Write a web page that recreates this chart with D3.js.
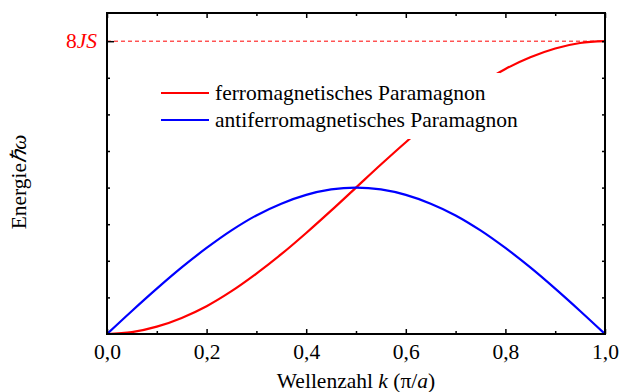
<!DOCTYPE html>
<html lang="de">
<head>
<meta charset="UTF-8">
<title>Paramagnon</title>
<style>
    body { margin: 0; background: #fff; }
    svg, svg text { font-family: "Times New Roman", "Liberation Serif", Times, serif; }
</style>
</head>
<body>
<svg></svg>
<script src="https://d3js.org/d3.v7.min.js"></script>
<script>
    // Wellenzahl k in Einheiten pi/a
    var kValues = [0, 0.05, 0.1, 0.15, 0.2, 0.25, 0.3, 0.35, 0.4, 0.45, 0.5,
                   0.55, 0.6, 0.65, 0.7, 0.75, 0.8, 0.85, 0.9, 0.95, 1.0];
    // Energie in Einheiten JS
    var ferroValues = [0, 0.05, 0.2, 0.44, 0.76, 1.17, 1.65, 2.18, 2.76, 3.37, 4.0,
                       4.63, 5.24, 5.82, 6.35, 6.83, 7.24, 7.56, 7.8, 7.95, 8.0];
    var antiferroValues = [0, 0.63, 1.24, 1.82, 2.35, 2.83, 3.24, 3.56, 3.8, 3.95, 4.0,
                           3.95, 3.8, 3.56, 3.24, 2.83, 2.35, 1.82, 1.24, 0.63, 0];
    var xTickValues = [0, 0.2, 0.4, 0.6, 0.8, 1.0];
    var xMinorTicks = [0.1, 0.3, 0.5, 0.7, 0.9];
    var yMinorTicks = [1, 2, 3, 4, 5, 6, 7];
    var yMaxLevel = 8;
    var seriesNames = ["ferromagnetisches Paramagnon", "antiferromagnetisches Paramagnon"];
    var seriesColors = ["#ff0000", "#0000ff"];

    var width = 619, height = 392;
    var pLeft = 107, pRight = 605, pTop = 13, pBottom = 334;
    var fs = 21.5;
    var serif = "'Times New Roman', 'Liberation Serif', serif";

    var svg = d3.select("svg").attr("width", width).attr("height", height)
        .attr("font-family", serif);

    var x = d3.scaleLinear().domain([0, 1]).range([pLeft, pRight]);
    var y = d3.scaleLinear().domain([0, 8.77]).range([pBottom, pTop]);

    var fmt = function (d) { return d3.format(".1f")(d).replace(".", ","); };

    // Kurven
    var line = d3.line()
        .x(function (d) { return x(d[0]); })
        .y(function (d) { return y(d[1]); })
        .curve(d3.curveMonotoneX);

    [ferroValues, antiferroValues].forEach(function (vals, i) {
        svg.append("path")
            .datum(kValues.map(function (k, j) { return [k, vals[j]]; }))
            .attr("d", line)
            .attr("fill", "none")
            .attr("stroke", seriesColors[i])
            .attr("stroke-width", 2.2);
    });

    // gestrichelte Linie bei 8JS
    svg.append("line")
        .attr("x1", x(0)).attr("x2", x(1))
        .attr("y1", y(yMaxLevel)).attr("y2", y(yMaxLevel))
        .attr("stroke", "#ff0000")
        .attr("stroke-width", 1)
        .attr("stroke-dasharray", "4,3");

    // Achsen (Ticks nach innen)
    var xAxisB = d3.axisBottom(x).tickValues(xTickValues).tickFormat(fmt).tickSizeInner(-5).tickSizeOuter(0).tickPadding(10);
    var gx = svg.append("g").attr("transform", "translate(0," + pBottom + ")").call(xAxisB);
    gx.attr("font-family", serif);
    gx.selectAll("text").attr("font-size", fs).attr("fill", "#000");

    svg.append("g").attr("transform", "translate(0," + pBottom + ")")
        .call(d3.axisBottom(x).tickValues(xMinorTicks).tickFormat("").tickSizeInner(-3).tickSizeOuter(0));
    svg.append("g").attr("transform", "translate(0," + pTop + ")")
        .call(d3.axisTop(x).tickValues(xTickValues).tickFormat("").tickSizeInner(-5).tickSizeOuter(0));
    svg.append("g").attr("transform", "translate(0," + pTop + ")")
        .call(d3.axisTop(x).tickValues(xMinorTicks).tickFormat("").tickSizeInner(-3).tickSizeOuter(0));

    svg.append("g").attr("transform", "translate(" + pLeft + ",0)")
        .call(d3.axisLeft(y).tickValues([yMaxLevel]).tickFormat("").tickSizeInner(-7).tickSizeOuter(0));
    svg.append("g").attr("transform", "translate(" + pLeft + ",0)")
        .call(d3.axisLeft(y).tickValues(yMinorTicks).tickFormat("").tickSizeInner(-3).tickSizeOuter(0));
    svg.append("g").attr("transform", "translate(" + pRight + ",0)")
        .call(d3.axisRight(y).tickValues(yMinorTicks.concat([yMaxLevel])).tickFormat("").tickSizeInner(-3).tickSizeOuter(0));

    svg.selectAll(".tick line").attr("stroke", "#000").attr("stroke-width", 1.5);
    svg.selectAll(".domain").remove();

    // Rahmen
    svg.append("rect")
        .attr("x", pLeft).attr("y", pTop)
        .attr("width", pRight - pLeft).attr("height", pBottom - pTop)
        .attr("fill", "none").attr("stroke", "#000").attr("stroke-width", 2);

    // Label 8JS
    var lab = svg.append("text")
        .attr("x", pLeft - 10).attr("y", y(yMaxLevel) + 7)
        .attr("text-anchor", "end").attr("fill", "#ff0000").attr("font-size", fs);
    lab.append("tspan").text("8");
    lab.append("tspan").attr("font-style", "italic").text("JS");

    // Legende mit weissem Hintergrund
    svg.append("rect").attr("x", 150).attr("y", 73).attr("width", 350).attr("height", 66).attr("fill", "#fff");
    seriesNames.forEach(function (name, i) {
        var ly = 93 + i * 27;
        svg.append("line").attr("x1", 161).attr("x2", 209).attr("y1", ly).attr("y2", ly)
            .attr("stroke", seriesColors[i]).attr("stroke-width", 2.2);
        svg.append("text").attr("x", 215).attr("y", ly + 7).attr("font-size", fs).attr("fill", "#000").text(name);
    });

    // Achsenbeschriftungen
    var xl = svg.append("text").attr("x", (pLeft + pRight) / 2).attr("y", 388)
        .attr("text-anchor", "middle").attr("font-size", fs).attr("fill", "#000");
    xl.append("tspan").text("Wellenzahl ");
    xl.append("tspan").attr("font-style", "italic").text("k");
    xl.append("tspan").text(" (\u03c0/");
    xl.append("tspan").attr("font-style", "italic").text("a");
    xl.append("tspan").text(")");

    var yl = svg.append("text").attr("transform", "translate(26,182) rotate(-90)")
        .attr("text-anchor", "middle").attr("font-size", fs).attr("fill", "#000");
    yl.append("tspan").text("Energie");
    yl.append("tspan").attr("font-style", "italic").text("\u210f\u03c9");
</script>
</body>
</html>
